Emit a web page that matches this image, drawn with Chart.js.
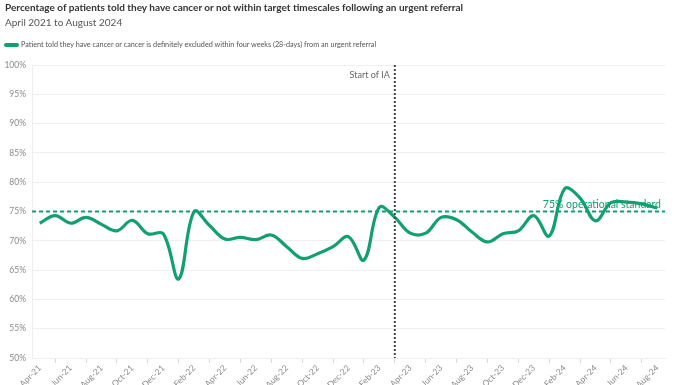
<!DOCTYPE html>
<html>
<head>
<meta charset="utf-8">
<script src="https://cdn.jsdelivr.net/npm/chart.js@4"></script>
<style>
  body { margin: 0; background: #fff; font-family: Lato, "Open Sans", sans-serif; }
  #wrap { position: relative; width: 696px; height: 385px; }
  #title { position: absolute; left: 5px; top: 1px; font-size: 10px; font-weight: bold; color: #333; white-space: nowrap; }
  #subtitle { position: absolute; left: 5px; top: 16px; font-size: 10px; color: #555; white-space: nowrap; }
  #legend { position: absolute; left: 4px; top: 40px; font-size: 7.25px; color: #555; white-space: nowrap; display: flex; align-items: center; }
  #legend span.mark { display: inline-block; width: 15px; height: 4px; border-radius: 2px; background: #13a06f; margin-right: 2px; }
  canvas { position: absolute; left: 0; top: 0; }
</style>
</head>
<body>
<div id="wrap">
  <canvas id="chart" width="696" height="385"></canvas>
  <div id="title">Percentage of patients told they have cancer or not within target timescales following an urgent referral</div>
  <div id="subtitle">April 2021 to August 2024</div>
  <div id="legend"><span class="mark"></span>Patient told they have cancer or cancer is definitely excluded within four weeks (28-days) from an urgent referral</div>
</div>
<script>
const months = ['Apr-21','May-21','Jun-21','Jul-21','Aug-21','Sep-21','Oct-21','Nov-21','Dec-21',
  'Jan-22','Feb-22','Mar-22','Apr-22','May-22','Jun-22','Jul-22','Aug-22','Sep-22','Oct-22','Nov-22','Dec-22',
  'Jan-23','Feb-23','Mar-23','Apr-23','May-23','Jun-23','Jul-23','Aug-23','Sep-23','Oct-23','Nov-23','Dec-23',
  'Jan-24','Feb-24','Mar-24','Apr-24','May-24','Jun-24','Jul-24','Aug-24'];
const toldWithin28 = [73.0, 74.3, 73.0, 74.0, 72.8, 71.7, 73.5, 71.2, 71.2,
  63.5, 75.0, 72.6, 70.3, 70.6, 70.2, 71.0, 69.0, 67.0, 67.8, 69.0, 70.7,
  66.7, 75.7, 74.0, 71.3, 71.3, 74.0, 73.6, 71.5, 69.8, 71.2, 71.7, 74.3,
  70.8, 78.9, 77.3, 73.4, 76.5, 76.6, 76.3, 75.6];
const operationalStandard = 75;
const startOfIA = 'Mar-23';
const yMin = 50, yMax = 100, yStep = 5;

const green = '#13a06f';
const fontFamily = 'Lato, "Open Sans", sans-serif';

const refLines = {
  id: 'refLines',
  beforeDatasetsDraw(chart) {
    const { ctx, chartArea: a, scales: { y } } = chart;
    const yy = y.getPixelForValue(operationalStandard);
    ctx.save();
    ctx.strokeStyle = green;
    ctx.lineWidth = 2;
    ctx.setLineDash([4, 3]);
    ctx.beginPath();
    ctx.moveTo(a.left, yy);
    ctx.lineTo(a.right, yy);
    ctx.stroke();
    ctx.fillStyle = green;
    ctx.font = '10.5px ' + fontFamily;
    ctx.textAlign = 'right';
    ctx.textBaseline = 'bottom';
    ctx.fillText(operationalStandard + '% operational standard', a.right - 4, yy - 2);
    ctx.restore();
  },
  afterDatasetsDraw(chart) {
    const { ctx, chartArea: a, scales: { x } } = chart;
    const xx = x.getPixelForValue(months.indexOf(startOfIA));
    ctx.save();
    ctx.strokeStyle = '#444';
    ctx.lineWidth = 2;
    ctx.setLineDash([2, 2]);
    ctx.beginPath();
    ctx.moveTo(xx, a.top);
    ctx.lineTo(xx, a.bottom);
    ctx.stroke();
    ctx.fillStyle = '#666';
    ctx.font = '9px ' + fontFamily;
    ctx.textAlign = 'right';
    ctx.textBaseline = 'middle';
    ctx.fillText('Start of IA', xx - 5, a.top + 10);
    ctx.restore();
  }
};

new Chart(document.getElementById('chart'), {
  type: 'line',
  data: {
    labels: months,
    datasets: [{
      label: 'Patient told they have cancer or cancer is definitely excluded within four weeks (28-days) from an urgent referral',
      data: toldWithin28,
      borderColor: green,
      borderWidth: 3.2,
      pointRadius: 0,
      tension: 0.38,
      fill: false
    }]
  },
  options: {
    responsive: false,
    animation: false,
    layout: { padding: { top: 65, left: 0, right: 31, bottom: 0 } },
    plugins: { legend: { display: false }, title: { display: false }, tooltip: { enabled: false } },
    scales: {
      x: {
        offset: true,
        grid: {
          offset: false,
          drawOnChartArea: false,
          tickLength: 5,
          color: c => (c.index % 2 === 1 ? '#d9d9d9' : 'rgba(0,0,0,0)')
        },
        border: { color: '#eeeeee' },
        ticks: {
          autoSkip: false,
          minRotation: 45,
          maxRotation: 45,
          padding: 0,
          color: '#8a8a8a',
          font: { size: 8.5, family: fontFamily },
          callback: (v, i) => (i % 2 === 0 ? months[i] : '')
        },
        afterFit: s => { s.height = 27; }
      },
      y: {
        min: yMin,
        max: yMax,
        grid: { color: '#efefef', drawTicks: false },
        border: { color: '#eeeeee' },
        ticks: {
          stepSize: yStep,
          padding: 6,
          color: '#8a8a8a',
          font: { size: 8.5, family: fontFamily },
          callback: v => v + '%'
        },
        afterFit: s => { s.width = 32; }
      }
    }
  },
  plugins: [refLines]
});
</script>
</body>
</html>
